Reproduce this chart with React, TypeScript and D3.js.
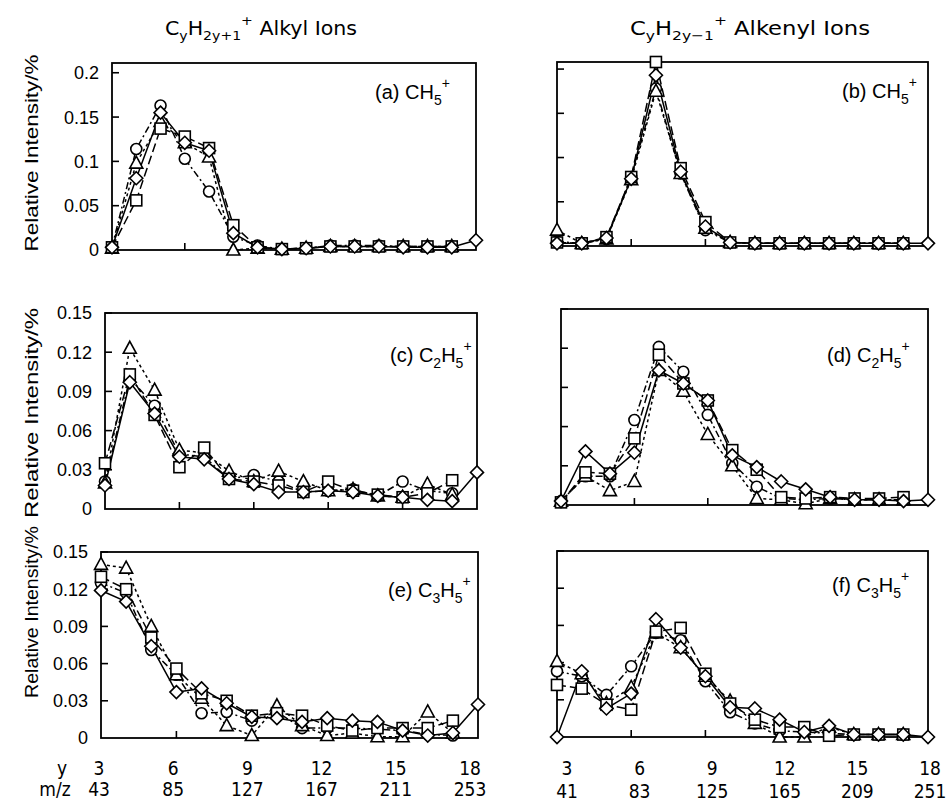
import React from 'react';
import * as d3 from 'd3';

// carbon number y (x axis of every panel)
const carbonNumbers = [3, 4, 5, 6, 7, 8, 9, 10, 11, 12, 13, 14, 15, 16, 17, 18];
const xTickValues = [3, 6, 9, 12, 15, 18];
const alkylMz = [43, 85, 127, 167, 211, 253];
const alkenylMz = [41, 83, 125, 165, 209, 251];
const ticksCH5 = [0, 0.05, 0.1, 0.15, 0.2];
const ticksC2C3 = [0, 0.03, 0.06, 0.09, 0.12, 0.15];

// (a) CH5+ , alkyl ions  (y = 3..17, diamond to 18)
const aCircle = [0.003, 0.114, 0.163, 0.103, 0.066, 0.015, 0.005, 0.001, 0.002, 0.005, 0.005, 0.005, 0.004, 0.004, 0.004];
const aTriangle = [0.002, 0.098, 0.145, 0.121, 0.105, 0.0, 0.002, 0.001, 0.002, 0.004, 0.004, 0.004, 0.004, 0.004, 0.004];
const aSquare = [0.003, 0.056, 0.137, 0.128, 0.115, 0.028, 0.003, 0.001, 0.002, 0.004, 0.004, 0.004, 0.004, 0.004, 0.004];
const aDiamond = [0.003, 0.081, 0.155, 0.121, 0.112, 0.019, 0.003, 0.001, 0.002, 0.004, 0.004, 0.004, 0.003, 0.003, 0.003, 0.011];

// (b) CH5+ , alkenyl ions
const bCircle = [0.005, 0.003, 0.008, 0.078, 0.178, 0.082, 0.018, 0.004, 0.003, 0.003, 0.003, 0.003, 0.003, 0.003, 0.003];
const bTriangle = [0.018, 0.003, 0.008, 0.075, 0.175, 0.082, 0.02, 0.004, 0.003, 0.003, 0.003, 0.003, 0.003, 0.003, 0.003];
const bSquare = [0.004, 0.003, 0.01, 0.078, 0.208, 0.088, 0.027, 0.004, 0.003, 0.003, 0.003, 0.003, 0.003, 0.003, 0.003];
const bDiamond = [0.003, 0.003, 0.009, 0.076, 0.193, 0.084, 0.022, 0.004, 0.003, 0.003, 0.003, 0.003, 0.003, 0.003, 0.003, 0.003];

// (c) C2H5+ , alkyl ions
const cCircle = [0.021, 0.1, 0.079, 0.042, 0.04, 0.023, 0.026, 0.021, 0.013, 0.014, 0.015, 0.01, 0.021, 0.014, 0.012];
const cTriangle = [0.02, 0.123, 0.091, 0.045, 0.043, 0.029, 0.021, 0.029, 0.021, 0.014, 0.015, 0.01, 0.009, 0.019, 0.011];
const cSquare = [0.035, 0.103, 0.072, 0.032, 0.047, 0.023, 0.021, 0.018, 0.013, 0.021, 0.014, 0.011, 0.009, 0.012, 0.022];
const cDiamond = [0.018, 0.097, 0.073, 0.04, 0.038, 0.023, 0.019, 0.013, 0.013, 0.014, 0.013, 0.01, 0.009, 0.007, 0.006, 0.028];

// (d) C2H5+ , alkenyl ions
const dCircle = [0.003, 0.022, 0.022, 0.065, 0.121, 0.102, 0.069, 0.032, 0.014, 0.005, 0.004, 0.005, 0.004, 0.004, 0.004];
const dTriangle = [0.003, 0.022, 0.011, 0.018, 0.103, 0.087, 0.054, 0.03, 0.005, 0.004, 0.001, 0.005, 0.004, 0.004, 0.004];
const dSquare = [0.002, 0.025, 0.024, 0.051, 0.115, 0.093, 0.08, 0.042, 0.027, 0.006, 0.005, 0.006, 0.005, 0.005, 0.006];
const dDiamond = [0.003, 0.041, 0.024, 0.04, 0.103, 0.093, 0.08, 0.038, 0.029, 0.018, 0.012, 0.006, 0.004, 0.004, 0.003, 0.004];

// (e) C3H5+ , alkyl ions
const eCircle = [0.125, 0.117, 0.071, 0.051, 0.02, 0.021, 0.014, 0.021, 0.008, 0.008, 0.008, 0.007, 0.006, 0.003, 0.002];
const eTriangle = [0.14, 0.137, 0.09, 0.051, 0.032, 0.01, 0.002, 0.026, 0.01, 0.002, 0.004, 0.001, 0.001, 0.021, 0.004];
const eSquare = [0.13, 0.12, 0.081, 0.056, 0.036, 0.03, 0.018, 0.02, 0.018, 0.01, 0.006, 0.008, 0.008, 0.008, 0.014];
const eDiamond = [0.119, 0.11, 0.074, 0.037, 0.04, 0.028, 0.017, 0.016, 0.013, 0.016, 0.014, 0.013, 0.006, 0.002, 0.004, 0.027];

// (f) C3H5+ , alkenyl ions
const fCircle = [0.053, 0.049, 0.034, 0.057, 0.084, 0.078, 0.045, 0.02, 0.011, 0.005, 0.004, 0.003, 0.002, 0.002, 0.002];
const fTriangle = [0.061, 0.051, 0.027, 0.04, 0.084, 0.072, 0.049, 0.029, 0.011, 0.0, 0.0, 0.008, 0.002, 0.002, 0.002];
const fSquare = [0.042, 0.039, 0.026, 0.022, 0.085, 0.088, 0.051, 0.027, 0.014, 0.008, 0.008, 0.001, 0.002, 0.002, 0.002];
const fDiamond = [0.0, 0.053, 0.023, 0.035, 0.095, 0.072, 0.049, 0.024, 0.023, 0.014, 0.004, 0.009, 0.002, 0.002, 0.002, 0.0];

const seriesOrder = ['circle', 'triangle', 'square', 'diamond'];
const dashes = {
  circle: '7,3,2,3',
  triangle: '3,3',
  square: '9,4',
  diamond: null,
};

const ionCH5 = [['n', 'CH'], ['sub', '5'], ['sup', '+']];
const ionC2H5 = [['n', 'C'], ['sub', '2'], ['n', 'H'], ['sub', '5'], ['sup', '+']];
const ionC3H5 = [['n', 'C'], ['sub', '3'], ['n', 'H'], ['sub', '5'], ['sup', '+']];

const panels = [
  { tag: '(a) ', ion: ionCH5, s: { circle: aCircle, triangle: aTriangle, square: aSquare, diamond: aDiamond }, l: 112, r: 476, t: 63, b: 250, yMax: 0.211, ticks: ticksCH5, labels: true, tx: 375, ty: 99, yl: { cy: 153, len: 197 } },
  { tag: '(b) ', ion: ionCH5, s: { circle: bCircle, triangle: bTriangle, square: bSquare, diamond: bDiamond }, l: 557, r: 928, t: 62, b: 246, yMax: 0.208, ticks: ticksCH5, labels: false, tx: 842, ty: 98 },
  { tag: '(c) ', ion: ionC2H5, s: { circle: cCircle, triangle: cTriangle, square: cSquare, diamond: cDiamond }, l: 105, r: 477, t: 313, b: 509, yMax: 0.15, ticks: ticksC2C3, labels: true, tx: 390, ty: 362, yl: { cy: 413, len: 210 } },
  { tag: '(d) ', ion: ionC2H5, s: { circle: dCircle, triangle: dTriangle, square: dSquare, diamond: dDiamond }, l: 561, r: 928, t: 309, b: 505, yMax: 0.15, ticks: ticksC2C3, labels: false, tx: 827, ty: 362 },
  { tag: '(e) ', ion: ionC3H5, s: { circle: eCircle, triangle: eTriangle, square: eSquare, diamond: eDiamond }, l: 101, r: 478, t: 552, b: 738, yMax: 0.15, ticks: ticksC2C3, labels: true, tx: 388, ty: 597, yl: { cy: 612, len: 172 } },
  { tag: '(f) ', ion: ionC3H5, s: { circle: fCircle, triangle: fTriangle, square: fSquare, diamond: fDiamond }, l: 557, r: 928, t: 551, b: 737, yMax: 0.15, ticks: ticksC2C3, labels: false, tx: 832, ty: 592 },
];

const FONT = '"Liberation Sans", Arial, Helvetica, sans-serif';
const NARROW = '"Liberation Sans Narrow", "Arial Narrow", "DejaVu Sans Condensed", sans-serif';

function RichText({ parts, x, y, size, anchor = 'start', family = FONT, textLength }) {
  let level = 0;
  const small = Math.round(size * 0.68);
  const kids = parts.map(([kind, str], i) => {
    const target = kind === 'sub' ? size * 0.28 : kind === 'sup' ? -size * 0.55 : 0;
    const dy = target - level;
    level = target;
    return (
      <tspan key={i} dy={dy} fontSize={kind === 'n' ? size : small}>
        {str}
      </tspan>
    );
  });
  return (
    <text x={x} y={y} fontSize={size} fontFamily={family} textAnchor={anchor}
      textLength={textLength} lengthAdjust={textLength ? 'spacingAndGlyphs' : undefined}>
      {kids}
    </text>
  );
}

function Marker({ shape, x, y }) {
  const common = { fill: '#fff', stroke: '#000', strokeWidth: 1.6 };
  if (shape === 'circle') return <circle cx={x} cy={y} r={5.5} {...common} />;
  if (shape === 'square') return <rect x={x - 5.5} y={y - 5.5} width={11} height={11} {...common} />;
  if (shape === 'triangle')
    return <path d={`M${x},${y - 7}L${x + 6.5},${y + 5}L${x - 6.5},${y + 5}Z`} {...common} />;
  return <path d={`M${x},${y - 6.5}L${x + 6.5},${y}L${x},${y + 6.5}L${x - 6.5},${y}Z`} {...common} />;
}

function Panel({ p }) {
  const x = d3.scaleLinear().domain([3, 18]).range([p.l, p.r]);
  const y = d3.scaleLinear().domain([0, p.yMax]).range([p.b, p.t]);
  const line = d3.line().x((d, i) => x(carbonNumbers[i])).y((d) => y(d));
  const fmt = (v) => String(+v.toFixed(2));
  return (
    <g>
      {seriesOrder.map((k) => (
        <path key={k} d={line(p.s[k])} fill="none" stroke="#000" strokeWidth={1.5}
          strokeDasharray={dashes[k] || undefined} />
      ))}
      <rect x={p.l} y={p.t} width={p.r - p.l} height={p.b - p.t} fill="none" stroke="#000" strokeWidth={1.8} />
      {p.ticks.slice(1).map((v) => (
        <line key={v} x1={p.l} x2={p.l + 7} y1={y(v)} y2={y(v)} stroke="#000" strokeWidth={1.6} />
      ))}
      {xTickValues.slice(1, -1).map((v) => (
        <line key={v} x1={x(v)} x2={x(v)} y1={p.b} y2={p.b - 7} stroke="#000" strokeWidth={1.6} />
      ))}
      {seriesOrder.map((k) =>
        p.s[k].map((v, i) => <Marker key={k + i} shape={k} x={x(carbonNumbers[i])} y={y(v)} />)
      )}
      {p.labels &&
        p.ticks.map((v) => (
          <text key={v} x={p.l - 13} y={y(v)} dy="0.36em" textAnchor="end" fontSize={18} fontFamily={FONT}>
            {fmt(v)}
          </text>
        ))}
      {p.yl && (
        <text transform={`translate(38,${p.yl.cy}) rotate(-90)`} textAnchor="middle" fontSize={19}
          fontFamily={FONT} textLength={p.yl.len} lengthAdjust="spacingAndGlyphs">
          Relative Intensity/%
        </text>
      )}
      <RichText parts={[['n', p.tag], ...p.ion]} x={p.tx} y={p.ty} size={20} />
    </g>
  );
}

export default function App() {
  const leftLabel = d3.scaleLinear().domain([3, 18]).range([99, 470]);
  const rightLabel = d3.scaleLinear().domain([3, 18]).range([567, 930]);
  return (
    <svg width={946} height={803} style={{ display: 'block', position: 'absolute', left: 0, top: 0, background: '#fff' }}>
      <RichText parts={[['n', 'C'], ['sub', 'y'], ['n', 'H'], ['sub', '2y+1'], ['sup', '+'], ['n', ' Alkyl Ions']]}
        x={165} y={35} size={19} family={NARROW} textLength={192} />
      <RichText parts={[['n', 'C'], ['sub', 'y'], ['n', 'H'], ['sub', '2y−1'], ['sup', '+'], ['n', ' Alkenyl Ions']]}
        x={630} y={35} size={19} family={NARROW} textLength={240} />
      {panels.map((p, i) => (
        <Panel key={i} p={p} />
      ))}
      <g fontFamily={NARROW} fontSize={19} textAnchor="middle">
        <text x={62} y={775}>y</text>
        <text x={55} y={796}>m/z</text>
        {xTickValues.map((v, i) => (
          <g key={v}>
            <text x={leftLabel(v)} y={775}>{v}</text>
            <text x={leftLabel(v)} y={796}>{alkylMz[i]}</text>
            <text x={rightLabel(v)} y={775}>{v}</text>
            <text x={rightLabel(v)} y={798}>{alkenylMz[i]}</text>
          </g>
        ))}
      </g>
    </svg>
  );
}
